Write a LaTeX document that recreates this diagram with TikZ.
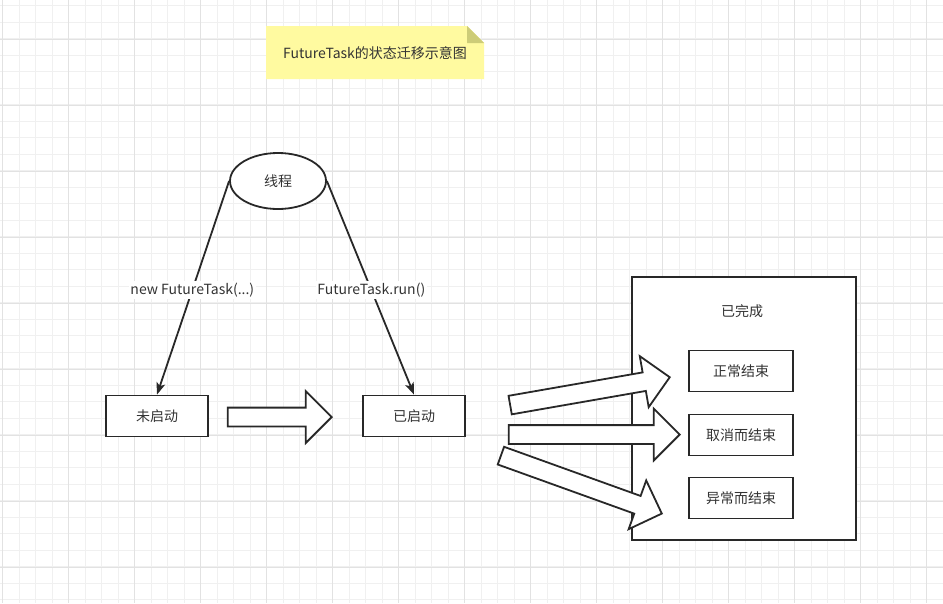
\documentclass[tikz,border=0pt]{standalone}
\usepackage{fontspec}
\setmainfont{Noto Sans CJK SC}
\usepackage{tikz}
\usetikzlibrary{positioning,arrows.meta,shapes.geometric,shapes.arrows}

\definecolor{linec}{RGB}{40,40,40}
\definecolor{txtc}{RGB}{51,51,51}
\definecolor{gridmin}{RGB}{240,240,240}
\definecolor{gridmaj}{RGB}{226,226,226}
\definecolor{notefill}{RGB}{255,250,160}
\definecolor{foldfill}{RGB}{205,204,120}

\begin{document}
\begin{tikzpicture}[
  x=1pt, y=-1pt,
  font=\fontsize{14pt}{16pt}\selectfont, text=txtc,
  box/.style={
    rectangle, draw=linec, fill=white, line width=1.8pt,
    minimum width=102, minimum height=41, inner sep=0pt
  },
  endbox/.style={box, minimum width=104},
  state/.style={
    ellipse, draw=linec, fill=white, line width=1.8pt,
    minimum width=96, minimum height=56, inner sep=0pt
  },
  bigarrow/.style={
    single arrow, draw=linec, fill=white, line width=1.8pt,
    inner xsep=0pt, inner ysep=8.5pt, single arrow head extend=16.5,
    single arrow tip angle=90, anchor=tip
  },
  arr/.style={-{Stealth[length=12pt, width=9pt, inset=3pt]}, draw=linec, line width=1.8pt},
  lbl/.style={fill=white, inner sep=1.5pt}
]

% --- canvas and grid ---
\useasboundingbox (0,0) rectangle (943,603);
\fill[white] (0,0) rectangle (943,603);
\foreach \i in {0,...,57}
  \draw[gridmin, line width=0.9pt] ({2.7+16.5*\i},0) -- ++(0,603);
\foreach \j in {0,...,36}
  \draw[gridmin, line width=0.9pt] (0,{5.7+16.5*\j}) -- ++(943,0);
\foreach \i in {0,...,14}
  \draw[gridmaj, line width=0.9pt] ({2.7+66*\i},0) -- ++(0,603);
\foreach \j in {0,...,8}
  \draw[gridmaj, line width=0.9pt] (0,{39+66*\j}) -- ++(943,0);

% --- title note ---
\fill[notefill] (266,26) -- (467,26) -- (484,43) -- (484,79) -- (266,79) -- cycle;
\fill[foldfill] (467,26) -- (467,43) -- (484,43) -- cycle;
\node (title) at (375,53) {FutureTask的状态迁移示意图};

% --- thread and first states ---
\node[state] (thread) at (278,181) {线程};
\node[box] (idle) at (157,416) {未启动};
\node[box] (running) at (414,416) {已启动};

% --- finished group ---
\node[rectangle, draw=linec, fill=white, line width=1.8pt,
  minimum width=224, minimum height=263] (done) at (744,408.5) {};
\node (donelbl) at (742,311) {已完成};
\node[endbox] (normal) at (741,371) {正常结束};
\node[endbox] (cancel) at (741,435) {取消而结束};
\node[endbox] (failed) at (741,498) {异常而结束};

% --- block arrows ---
\node[bigarrow, minimum height=104] (go) at (333,417) {};
\node[bigarrow, minimum height=162, rotate=9.9] (toNormal) at (671,377) {};
\node[bigarrow, minimum height=171] (toCancel) at (681,434.5) {};
\node[bigarrow, minimum height=171, rotate=-19.8] (toFailed) at (663,514) {};

% --- thread calls ---
\draw[arr] (thread.west) -- node[lbl, pos=0.51] {new FutureTask(...)} (idle.north);
\draw[arr] (thread.east) -- node[lbl, pos=0.51] {FutureTask.run()} (running.north);

\end{tikzpicture}
\end{document}
